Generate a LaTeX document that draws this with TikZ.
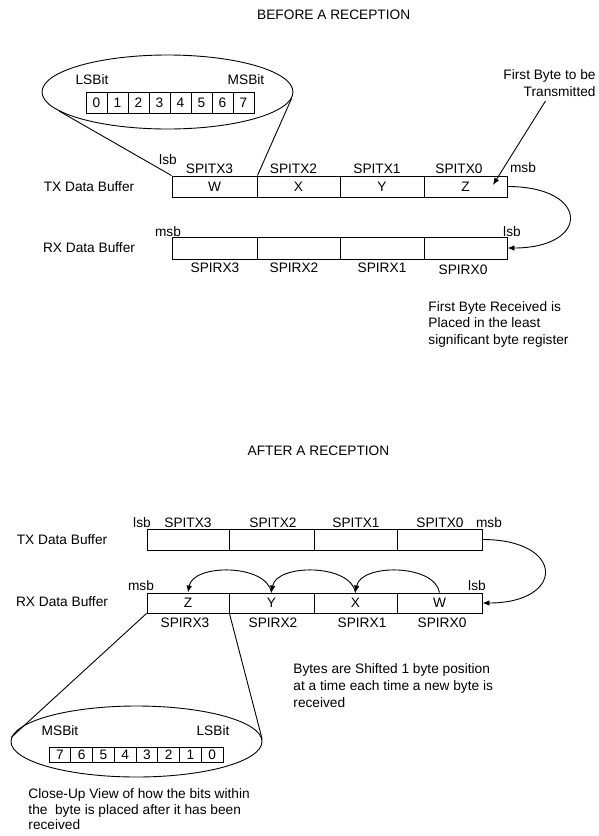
\documentclass[tikz,border=0pt]{standalone}
\usepackage{fontspec}
\setmainfont{Liberation Sans}
\usetikzlibrary{arrows.meta,shapes.geometric}
\newcommand{\diagfont}{\fontsize{13.7}{16.5}\selectfont}
\begin{document}
\begin{tikzpicture}[x=1pt,y=-1pt,line width=0.9pt,
  lbl/.style={inner sep=0pt, text height=9.8pt, text depth=0pt, font=\diagfont},
  para/.style={inner sep=0pt, align=left, anchor=north west, font=\diagfont},
  cell/.style={draw, rectangle, inner sep=0pt, text height=9.8pt, text depth=0pt, font=\diagfont},
  lens/.style={draw, ellipse, inner sep=0pt},
  tip/.style={-{Latex[length=7pt,width=5.5pt]}}]
\useasboundingbox (0,0) rectangle (599,836);

% ---------------- before a reception ----------------
\node[lbl] (title1) at (333.7,15) {BEFORE A RECEPTION};

% magnified byte, LSBit first
\node[lens, minimum width=251pt, minimum height=74pt] (lensA) at (167.5,92) {};
\node[lbl] (lsbitA) at (92,80) {LSBit};
\node[lbl] (msbitA) at (246,80) {MSBit};
\foreach \i in {0,...,7}
  \node[cell, minimum width=21pt, minimum height=21pt] (bitA\i) at (96.5+21*\i,102.5) {\i};

% transmit buffer
\node[lbl] (txlblA) at (89,186.5) {TX Data Buffer};
\node[cell, minimum width=85pt, minimum height=21pt] (ta3) at (214.5,186.5) {W};
\node[cell, minimum width=83pt, minimum height=21pt] (ta2) at (298.5,186.5) {X};
\node[cell, minimum width=84pt, minimum height=21pt] (ta1) at (382,186.5) {Y};
\node[cell, minimum width=83pt, minimum height=21pt] (ta0) at (465.5,186.5) {Z};
\node[lbl] (lsbA) at (168,160) {lsb};
\node[lbl] (msbA) at (523,168) {msb};
\node[lbl] (nta3) at (209.5,169) {SPITX3};
\node[lbl] (nta2) at (293.5,169) {SPITX2};
\node[lbl] (nta1) at (377,169) {SPITX1};
\node[lbl] (nta0) at (459,169) {SPITX0};

% receive buffer
\node[lbl] (rxlblA) at (89,248) {RX Data Buffer};
\node[cell, minimum width=85pt, minimum height=22pt] (ra3) at (214.5,248) {};
\node[cell, minimum width=83pt, minimum height=22pt] (ra2) at (298.5,248) {};
\node[cell, minimum width=84pt, minimum height=22pt] (ra1) at (382,248) {};
\node[cell, minimum width=83pt, minimum height=22pt] (ra0) at (465.5,248) {};
\node[lbl] (msbRA) at (168,232) {msb};
\node[lbl] (lsbRA) at (512,232) {lsb};
\node[lbl] (nra3) at (215,268) {SPIRX3};
\node[lbl] (nra2) at (294,268) {SPIRX2};
\node[lbl] (nra1) at (382,268) {SPIRX1};
\node[lbl] (nra0) at (463,270) {SPIRX0};

% close-up lines
\draw (lensA.190.5) -- (ta3.north west);
\draw (lensA.357.6) -- (ta3.north east);

% notes
\node[para, anchor=north east, align=right, font=\fontsize{13.7}{17}\selectfont] (noteTx) at (596,69)
  {First Byte to be\\Transmitted};
\coordinate (firstbyte) at (493,185);
\draw[tip] ([xshift=-4pt,yshift=-4pt]noteTx.south) -- (firstbyte);
\draw[tip] (ta0.east) .. controls +(83,0) and +(83,0) .. (ra0.east);
\node[para] (noteRx) at (428,301)
  {First Byte Received is\\Placed in the least\\significant byte register};

% ---------------- after a reception ----------------
\node[lbl] (title2) at (318.5,451) {AFTER A RECEPTION};

% transmit buffer
\node[lbl] (txlblB) at (62,539.5) {TX Data Buffer};
\node[cell, minimum width=82pt, minimum height=21pt] (tb3) at (188,539.5) {};
\node[cell, minimum width=85pt, minimum height=21pt] (tb2) at (271.5,539.5) {};
\node[cell, minimum width=83pt, minimum height=21pt] (tb1) at (355.5,539.5) {};
\node[cell, minimum width=85pt, minimum height=21pt] (tb0) at (439.5,539.5) {};
\node[lbl] (lsbB) at (142,523) {lsb};
\node[lbl] (msbB) at (489,523) {msb};
\node[lbl] (ntb3) at (188,523) {SPITX3};
\node[lbl] (ntb2) at (273,523) {SPITX2};
\node[lbl] (ntb1) at (356,523) {SPITX1};
\node[lbl] (ntb0) at (440,523) {SPITX0};

% receive buffer
\node[lbl] (rxlblB) at (62,602) {RX Data Buffer};
\node[cell, minimum width=82pt, minimum height=20pt] (rb3) at (188,603) {Z};
\node[cell, minimum width=85pt, minimum height=20pt] (rb2) at (271.5,603) {Y};
\node[cell, minimum width=83pt, minimum height=20pt] (rb1) at (355.5,603) {X};
\node[cell, minimum width=85pt, minimum height=20pt] (rb0) at (439.5,603) {W};
\node[lbl] (msbRB) at (141,586) {msb};
\node[lbl] (lsbRB) at (477,586) {lsb};
\node[lbl] (nrb3) at (185,623) {SPIRX3};
\node[lbl] (nrb2) at (273,623) {SPIRX2};
\node[lbl] (nrb1) at (362,623) {SPIRX1};
\node[lbl] (nrb0) at (442,623) {SPIRX0};

% transfer and shifting
\draw[tip] (tb0.east) .. controls +(83,0) and +(83,0) .. (rb0.east);
\draw[tip] (rb0.north) .. controls +(-5,-29) and +(5,-29) .. (rb1.north);
\draw[tip] (rb1.north) .. controls +(-5,-29) and +(5,-29) .. (rb2.north);
\draw[tip] (rb2.north) .. controls +(-5,-29) and +(5,-29) .. (rb3.north);

\node[para, font=\fontsize{13.7}{17}\selectfont] (noteShift) at (293,663)
  {Bytes are Shifted 1 byte position\\at a time each time a new byte is\\received};

% magnified byte, MSBit first
\node[lens, minimum width=251pt, minimum height=71pt] (lensB) at (136.5,741.5) {};
\draw (rb3.south west) -- (lensB.178);
\draw (rb3.south east) -- (lensB.1.6);
\node[lbl] (msbitB) at (60,731) {MSBit};
\node[lbl] (lsbitB) at (213,731) {LSBit};
\foreach \i in {0,...,7}
  \node[cell, minimum width=21.75pt, minimum height=15pt] (bitB\i) at (59.9+21.75*\i,754.5) {\the\numexpr7-\i\relax};

\node[para, font=\fontsize{13.7}{15.7}\selectfont] (noteLens) at (28,788)
  {Close-Up View of how the bits within\\the~ byte is placed after it has been\\received};
\end{tikzpicture}
\end{document}
